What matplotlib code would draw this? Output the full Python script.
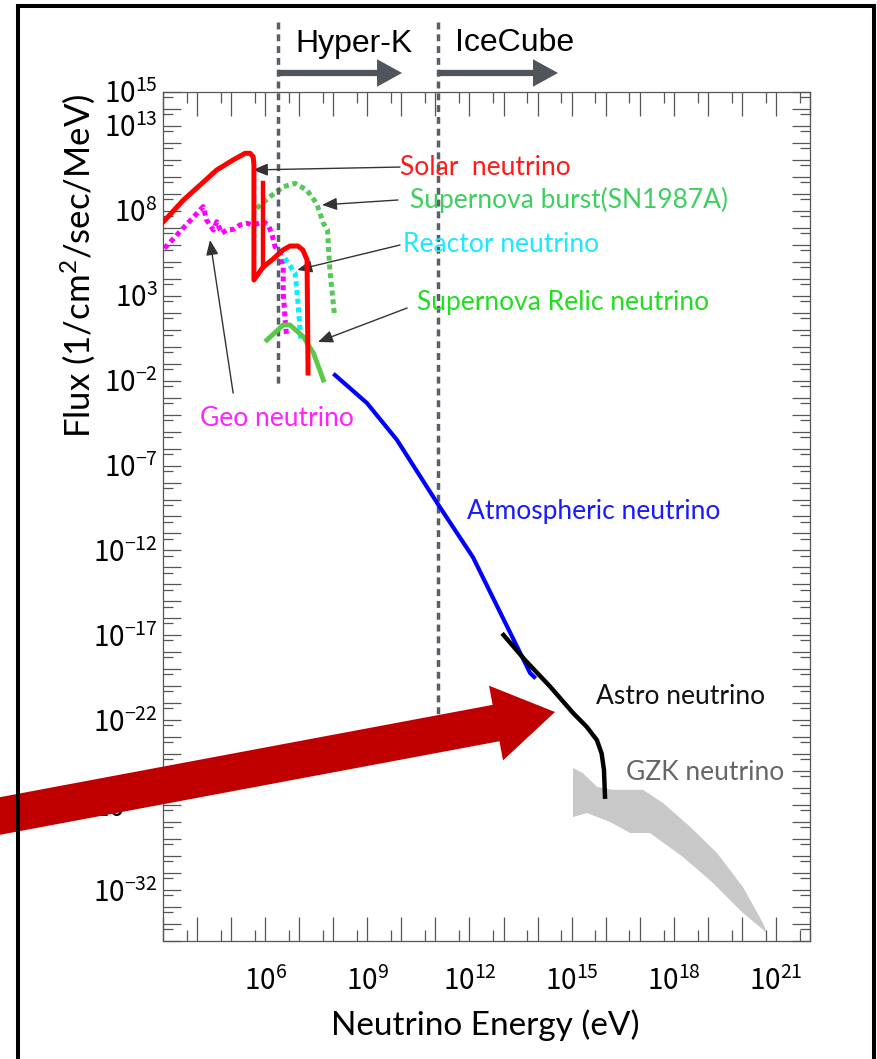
import numpy as np
import matplotlib
matplotlib.use("Agg")
import matplotlib.pyplot as plt
from matplotlib.patches import FancyArrow
from matplotlib.lines import Line2D
from matplotlib.ticker import FixedLocator, FuncFormatter, NullFormatter

plt.rcParams['font.family'] = ['Lato', 'DejaVu Sans']

# values, stored as log10
# x = neutrino energy [eV], y = flux [1/cm^2/sec/MeV]
solar_x = [3.0, 3.06, 3.60, 4.09, 4.58, 5.06, 5.41, 5.56, 5.65, 5.67, 5.67, 5.94,
           6.23, 6.52, 6.73, 6.96, 7.11, 7.23, 7.26]
solar_y = [7.34, 7.46, 8.64, 9.52, 10.41, 11.0, 11.39, 11.39, 11.17, 10.70, 3.93, 4.69,
           5.16, 5.69, 5.93, 5.93, 5.69, 5.11, -1.55]
pep_x = [5.94, 5.94]
pep_y = [4.69, 9.64]

geo_x = [3.04, 4.18, 4.28, 4.48, 4.58, 4.72, 4.87, 5.06, 5.26, 5.46, 5.65, 5.95,
         6.09, 6.19, 6.29, 6.44, 6.53, 6.53, 6.58, 6.63]
geo_y = [5.79, 8.25, 7.46, 6.87, 7.36, 6.68, 6.87, 6.91, 7.17, 7.27, 7.17, 7.36,
         7.17, 6.68, 5.89, 5.50, 4.71, 3.14, 1.77, 0.59]

reactor_x = [6.58, 6.68, 6.88, 6.95, 7.01, 7.05]
reactor_y = [5.21, 4.91, 4.32, 2.94, 1.38, 0.39]

burst_x = [5.75, 6.14, 6.53, 6.88, 7.22, 7.51, 7.71, 7.83, 7.90, 8.03]
burst_y = [8.15, 8.83, 9.42, 9.62, 9.23, 8.44, 7.27, 6.87, 4.52, 1.97]

relic_x = [6.05, 6.53, 6.73, 7.12, 7.42, 7.71]
relic_y = [0.39, 1.28, 1.28, 0.59, -0.39, -1.96]

atmos_x = [8.05, 8.99, 9.87, 11.05, 12.10, 13.78, 13.90]
atmos_y = [-1.67, -3.32, -5.49, -9.20, -12.39, -19.22, -19.45]

astro_x = [13.0, 13.63, 14.37, 15.05, 15.44, 15.74, 15.88, 15.95, 15.98]
astro_y = [-16.98, -18.45, -20.02, -21.59, -22.38, -23.16, -23.95, -24.93, -26.5]

gzk_hi_x = [15.04, 15.33, 15.75, 16.22, 17.10, 17.68, 18.48, 19.27, 20.03, 20.62, 20.74]
gzk_hi_y = [-24.81, -25.11, -25.93, -26.10, -26.10, -26.87, -28.27, -29.82, -31.82, -33.94, -34.53]
gzk_lo_x = [15.04, 15.45, 16.13, 16.72, 17.30, 18.27, 19.15, 20.03, 20.74]
gzk_lo_y = [-27.70, -27.46, -27.99, -28.64, -28.64, -30.05, -31.58, -33.35, -34.53]

x_label_exps = [6, 9, 12, 15, 18, 21]
y_label_exps = [15, 13, 8, 3, -2, -7, -12, -17, -22, -27, -32]

# detector thresholds (log10 eV)
hyperk_x = 6.38
icecube_x = 11.08

# label, colour, text position, arrow tail, arrow tip (log10 values)
notes = [
    ("Solar  neutrino", "#ff1a1a", (9.96, 10.58), (9.96, 10.58), (5.64, 10.41)),
    ("Supernova burst(SN1987A)", "#3ecf60", (10.25, 8.64), (9.90, 8.64), (7.67, 8.35)),
    ("Reactor neutrino", "#1ee8ff", (10.05, 5.99), (9.96, 5.99), (6.94, 4.52)),
    ("Supernova Relic neutrino", "#22dd22", (10.46, 2.63), (10.17, 2.28), (7.55, 0.28)),
    ("Geo neutrino", "#ff22ff", (4.09, -4.2), (5.06, -2.73), (4.38, 6.28)),
    ("Atmospheric neutrino", "#1a1aff", (11.93, -9.68), None, None),
    ("Astro neutrino", "#111111", (15.72, -20.63), None, None),
    ("GZK neutrino", "#666666", (16.60, -25.10), None, None),
]


def E(a):
    return 10.0 ** np.asarray(a)


fig = plt.figure(figsize=(8.77, 10.59), dpi=100)
ax = fig.add_axes([163 / 877, 118 / 1059, 647 / 877, 849 / 1059])
ax.set_xscale('log')
ax.set_yscale('log')
ax.set_xlim(1e3, 1e22)
ax.set_ylim(1e-35, 1e15)

# GZK band
ax.fill(E(gzk_hi_x + gzk_lo_x[::-1]), E(gzk_hi_y + gzk_lo_y[::-1]),
        color='#c8c8c8', lw=0, zorder=1)

dots = (0, (1, 0.75))
ax.plot(E(atmos_x), E(atmos_y), color='#0000ff', lw=3.0, zorder=3, solid_joinstyle='round')
ax.plot(E(astro_x), E(astro_y), color='black', lw=3.2, zorder=3, solid_joinstyle='round')
ax.plot(E(geo_x), E(geo_y), color='#ff00ff', lw=3.6, ls=dots, dash_capstyle='butt', zorder=2)
ax.plot(E(reactor_x), E(reactor_y), color='#00f0ff', lw=3.6, ls=dots, dash_capstyle='butt', zorder=2)
ax.plot(E(burst_x), E(burst_y), color='#55c855', lw=3.6, ls=dots, dash_capstyle='butt', zorder=2)
ax.plot(E(relic_x), E(relic_y), color='#5cc84a', lw=3.5, zorder=3, solid_joinstyle='round')
ax.plot(E(solar_x), E(solar_y), color='#ff0000', lw=3.6, zorder=4, solid_joinstyle='round')
ax.plot(E(pep_x), E(pep_y), color='#ff0000', lw=3.2, zorder=4)

# detector ranges
ax.plot(E([hyperk_x, hyperk_x]), E([19.1, -2.37]), color='#5a5e66', lw=2.5,
        ls=(0, (2.0, 1.4)), clip_on=False, zorder=2.5)
ax.plot(E([icecube_x, icecube_x]), E([19.1, -21.69]), color='#5a5e66', lw=2.5,
        ls=(0, (2.0, 1.4)), clip_on=False, zorder=2.5)
arrow_style = 'simple,head_length=1.0,head_width=1.1,tail_width=0.25'
for x0, x1 in [(hyperk_x, 10.02), (icecube_x, 14.6)]:
    ax.annotate('', xy=(E(x1), E(16.12)), xytext=(E(x0), E(16.12)),
                arrowprops=dict(arrowstyle=arrow_style, color='#50555c', lw=0,
                                shrinkA=0, shrinkB=0, mutation_scale=18),
                annotation_clip=False)
ax.text(E(6.88), E(17.85), 'Hyper-K', fontsize=23, family='Liberation Sans',
        ha='left', va='center')
ax.text(E(11.58), E(17.9), 'IceCube', fontsize=23, family='Liberation Sans',
        ha='left', va='center')

for label, col, txy, tail, tip in notes:
    ax.text(E(txy[0]), E(txy[1]), label, color=col, fontsize=19, ha='left', va='center')
    if tail is not None:
        ax.annotate('', xy=(E(tip[0]), E(tip[1])), xytext=(E(tail[0]), E(tail[1])),
                    arrowprops=dict(arrowstyle='-|>,head_length=0.6,head_width=0.25',
                                    color='#333333', lw=1.0, shrinkA=0, shrinkB=0,
                                    mutation_scale=15))

# axes styling
for sp in ax.spines.values():
    sp.set_color('#555555')
    sp.set_linewidth(0.9)

ax.xaxis.set_major_locator(FixedLocator(E(np.arange(3, 23))))
ax.xaxis.set_minor_locator(FixedLocator(5 * E(np.arange(3, 22))))
ax.yaxis.set_major_locator(FixedLocator(E(np.arange(-35, 16))))
ax.yaxis.set_minor_locator(FixedLocator(5 * E(np.arange(-35, 15))))


def make_fmt(keep):
    def fmt(v, pos):
        e = int(round(np.log10(v)))
        return r'$\mathregular{10^{%d}}$' % e if e in keep else ''
    return FuncFormatter(fmt)


ax.xaxis.set_major_formatter(make_fmt(x_label_exps))
ax.yaxis.set_major_formatter(make_fmt(y_label_exps))
ax.xaxis.set_minor_formatter(NullFormatter())
ax.yaxis.set_minor_formatter(NullFormatter())

ax.tick_params(which='both', direction='in', top=True, right=True,
               color='#555555', width=0.9, labelfontfamily='Noto Sans CJK JP')
ax.tick_params(axis='x', which='major', length=17, labelsize=20, pad=19)
ax.tick_params(axis='x', which='minor', length=8)
ax.tick_params(axis='y', which='major', length=13, labelsize=20, pad=4)
ax.tick_params(axis='y', which='minor', length=7)

ax.set_xlabel('Neutrino Energy (eV)', fontsize=24, ha='center', va='center')
ax.xaxis.set_label_coords(0.498, -0.099)
ax.set_ylabel(r'Flux (1/cm$\mathregular{^2}$/sec/MeV)', fontsize=25,
              ha='center', va='center')
ax.yaxis.set_label_coords(-0.131, 0.795)

# big red pointer arrow (figure inches)
fig.add_artist(FancyArrow(-0.3, 2.374, 5.85, 1.096, width=0.37, head_width=0.76,
                          head_length=0.6, length_includes_head=True,
                          color='#c00000', lw=0, transform=fig.dpi_scale_trans))

# outer frame
fw = 2.9
fig.add_artist(Line2D([18 / 877, 18 / 877], [0, 1053 / 1059], color='black', lw=fw))
fig.add_artist(Line2D([874 / 877, 874 / 877], [0, 1053 / 1059], color='black', lw=fw))
fig.add_artist(Line2D([18 / 877, 874 / 877], [1053 / 1059, 1053 / 1059], color='black', lw=fw,
                      solid_capstyle='projecting'))

fig.savefig('out.png', dpi=100)
